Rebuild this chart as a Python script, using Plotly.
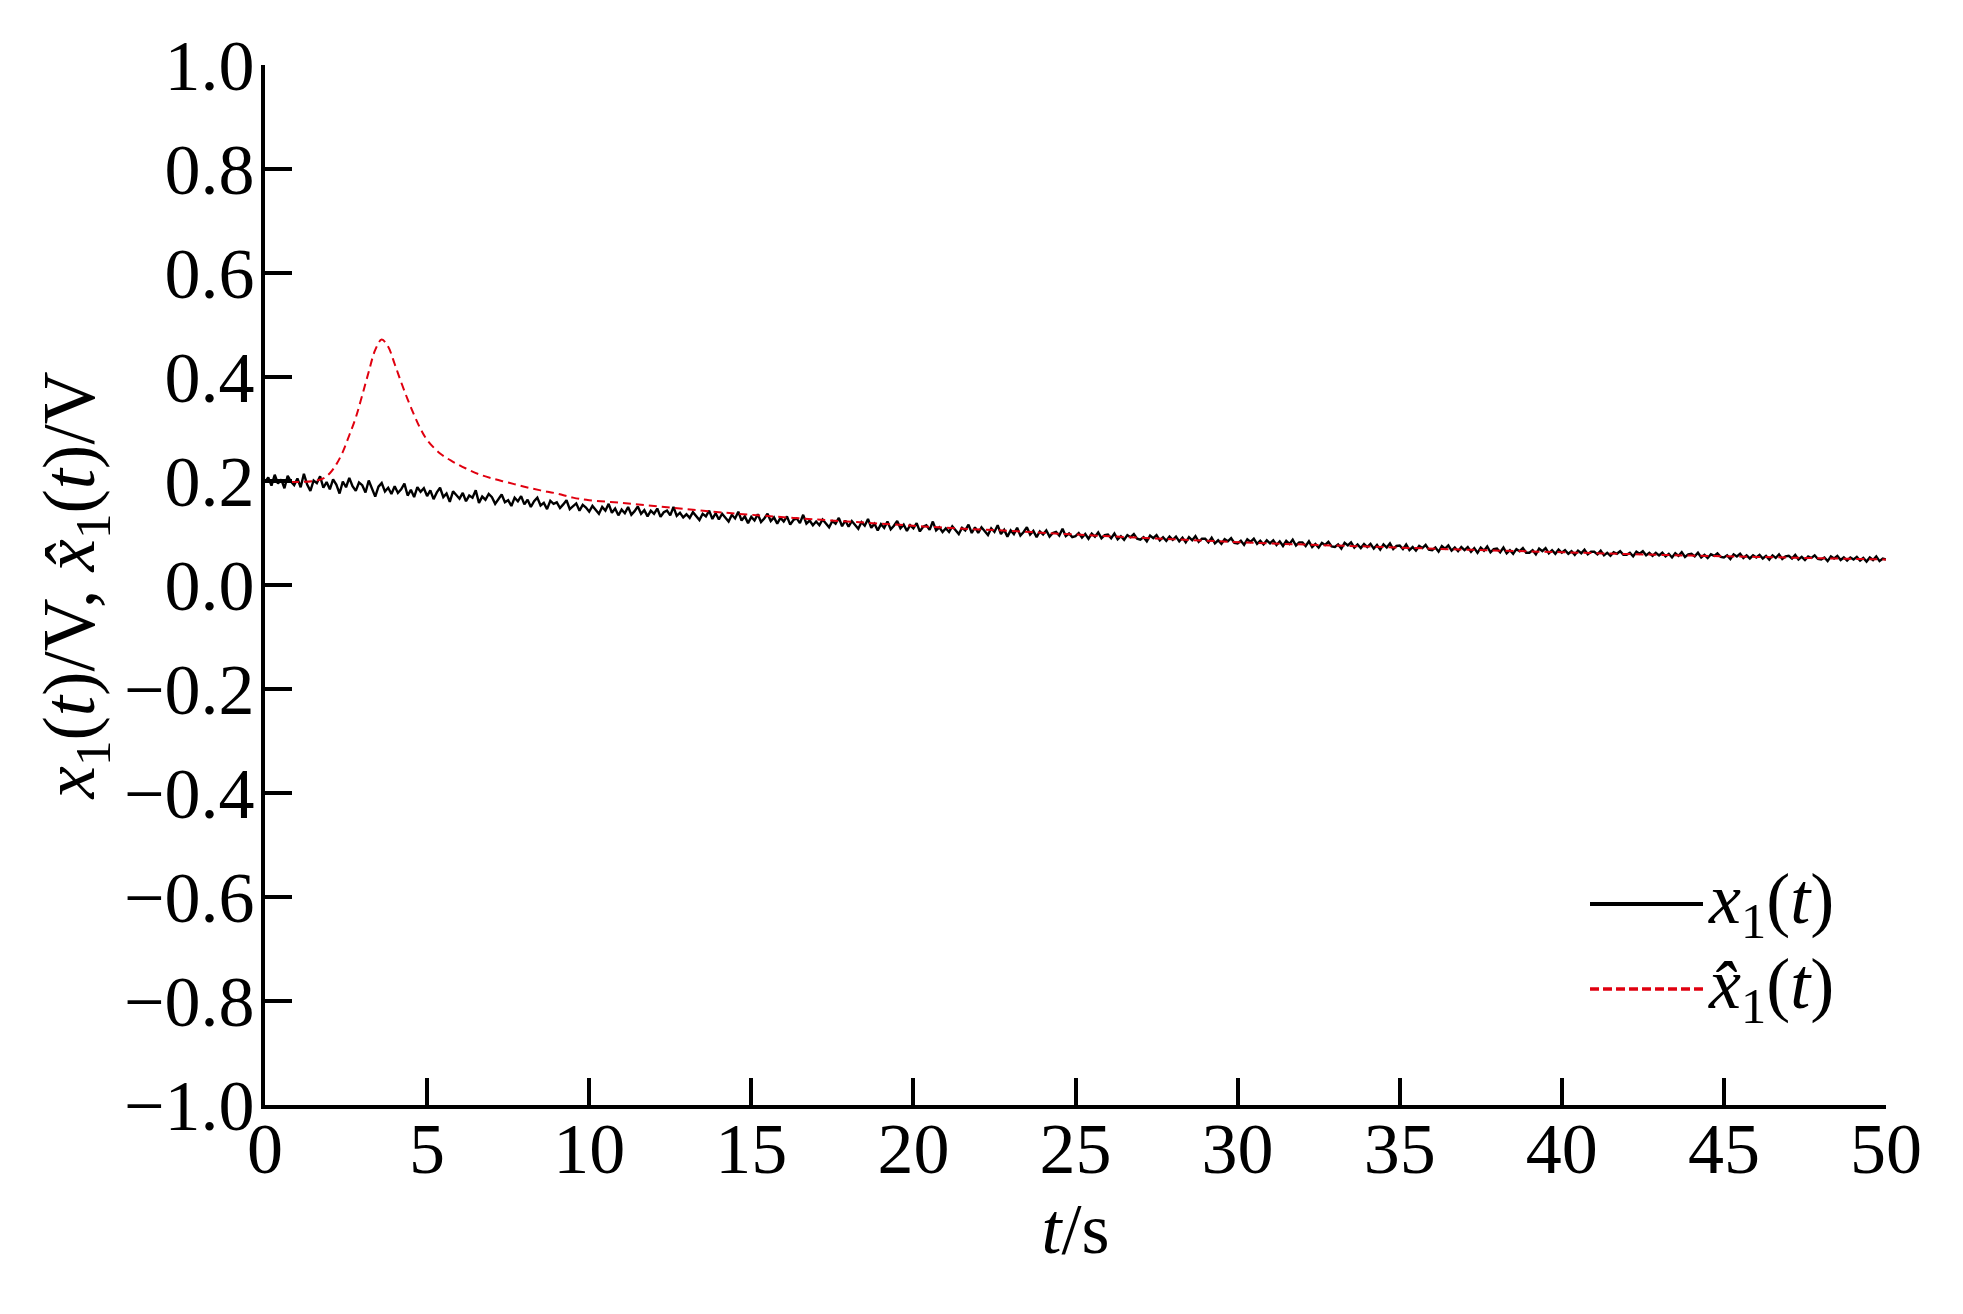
import plotly.graph_objects as go

# ---- data ----
t_x1 = [round(i * 0.1, 1) for i in range(501)]  # sample times, 0.1 s step
x1_vals = [
    0.198, 0.207, 0.191, 0.212, 0.195, 0.203, 0.186, 0.210, 0.199, 0.192,
    0.205, 0.188, 0.214, 0.193, 0.181, 0.201, 0.196, 0.209, 0.187, 0.198,
    0.184, 0.203, 0.193, 0.176, 0.199, 0.188, 0.206, 0.190, 0.181, 0.197,
    0.192, 0.178, 0.201, 0.185, 0.170, 0.189, 0.196, 0.180, 0.187, 0.175,
    0.190, 0.177, 0.184, 0.195, 0.172, 0.183, 0.169, 0.188, 0.179, 0.186,
    0.171, 0.182, 0.165, 0.178, 0.187, 0.169, 0.176, 0.160, 0.180, 0.173,
    0.166, 0.177, 0.161, 0.172, 0.168, 0.182, 0.158, 0.170, 0.164, 0.175,
    0.169, 0.156, 0.166, 0.174, 0.159, 0.163, 0.152, 0.168, 0.161, 0.171,
    0.155, 0.164, 0.150, 0.161, 0.168, 0.153, 0.158, 0.146, 0.162, 0.156,
    0.159, 0.148, 0.155, 0.163, 0.146, 0.152, 0.157, 0.143, 0.154, 0.149,
    0.141, 0.152, 0.145, 0.137, 0.150, 0.143, 0.156, 0.139, 0.147, 0.134,
    0.145, 0.138, 0.150, 0.135, 0.142, 0.151, 0.137, 0.144, 0.132, 0.143,
    0.137, 0.147, 0.131, 0.140, 0.143, 0.134, 0.150, 0.133, 0.139, 0.130,
    0.136, 0.129, 0.140, 0.133, 0.125, 0.137, 0.132, 0.143, 0.127, 0.138,
    0.126, 0.137, 0.130, 0.122, 0.135, 0.128, 0.141, 0.124, 0.132, 0.119,
    0.131, 0.124, 0.136, 0.121, 0.128, 0.137, 0.123, 0.130, 0.118, 0.129,
    0.122, 0.132, 0.116, 0.125, 0.128, 0.119, 0.135, 0.118, 0.124, 0.115,
    0.122, 0.115, 0.126, 0.119, 0.111, 0.123, 0.118, 0.129, 0.113, 0.124,
    0.112, 0.123, 0.116, 0.108, 0.121, 0.114, 0.127, 0.110, 0.118, 0.105,
    0.117, 0.110, 0.122, 0.107, 0.114, 0.123, 0.109, 0.116, 0.104, 0.115,
    0.109, 0.119, 0.103, 0.112, 0.115, 0.106, 0.122, 0.105, 0.111, 0.102,
    0.109, 0.102, 0.113, 0.106, 0.098, 0.110, 0.105, 0.116, 0.100, 0.111,
    0.100, 0.111, 0.104, 0.096, 0.109, 0.102, 0.115, 0.098, 0.106, 0.093,
    0.105, 0.098, 0.110, 0.095, 0.102, 0.111, 0.097, 0.104, 0.092, 0.103,
    0.097, 0.105, 0.093, 0.100, 0.102, 0.095, 0.108, 0.094, 0.099, 0.092,
    0.094, 0.100, 0.091, 0.098, 0.089, 0.099, 0.093, 0.101, 0.090, 0.096,
    0.097, 0.090, 0.099, 0.088, 0.094, 0.087, 0.096, 0.092, 0.098, 0.089,
    0.087, 0.092, 0.084, 0.095, 0.090, 0.096, 0.086, 0.092, 0.085, 0.093,
    0.087, 0.093, 0.084, 0.091, 0.082, 0.092, 0.086, 0.094, 0.083, 0.089,
    0.089, 0.082, 0.091, 0.080, 0.086, 0.079, 0.088, 0.084, 0.090, 0.081,
    0.080, 0.085, 0.077, 0.088, 0.083, 0.089, 0.079, 0.085, 0.078, 0.086,
    0.080, 0.086, 0.077, 0.084, 0.075, 0.085, 0.079, 0.087, 0.076, 0.082,
    0.082, 0.075, 0.084, 0.073, 0.079, 0.072, 0.081, 0.077, 0.083, 0.074,
    0.073, 0.078, 0.070, 0.081, 0.076, 0.082, 0.072, 0.078, 0.071, 0.079,
    0.073, 0.079, 0.070, 0.077, 0.068, 0.078, 0.072, 0.080, 0.069, 0.075,
    0.076, 0.069, 0.078, 0.067, 0.073, 0.066, 0.075, 0.071, 0.077, 0.068,
    0.067, 0.072, 0.064, 0.075, 0.070, 0.076, 0.066, 0.072, 0.065, 0.073,
    0.067, 0.073, 0.064, 0.071, 0.062, 0.072, 0.066, 0.074, 0.063, 0.069,
    0.070, 0.063, 0.072, 0.061, 0.067, 0.060, 0.069, 0.065, 0.071, 0.062,
    0.062, 0.067, 0.059, 0.070, 0.065, 0.071, 0.061, 0.067, 0.060, 0.068,
    0.062, 0.067, 0.060, 0.065, 0.058, 0.066, 0.061, 0.068, 0.059, 0.064,
    0.064, 0.059, 0.066, 0.057, 0.062, 0.056, 0.063, 0.060, 0.065, 0.058,
    0.058, 0.062, 0.055, 0.064, 0.060, 0.065, 0.057, 0.062, 0.056, 0.062,
    0.057, 0.062, 0.055, 0.060, 0.053, 0.061, 0.056, 0.063, 0.054, 0.059,
    0.060, 0.055, 0.062, 0.053, 0.058, 0.052, 0.059, 0.056, 0.061, 0.054,
    0.053, 0.057, 0.050, 0.059, 0.055, 0.060, 0.052, 0.057, 0.051, 0.057,
    0.053, 0.058, 0.051, 0.056, 0.049, 0.057, 0.052, 0.059, 0.050, 0.055,
    0.056, 0.051, 0.058, 0.049, 0.054, 0.048, 0.055, 0.052, 0.057, 0.050,
    0.049, 0.053, 0.046, 0.055, 0.051, 0.056, 0.048, 0.053, 0.047, 0.053,
    0.049, 0.054, 0.047, 0.052, 0.045, 0.053, 0.048, 0.055, 0.046, 0.051,
    0.049,
]

t_x1hat = [0, 0.5, 1.0, 1.5, 1.8, 2.0, 2.2, 2.4, 2.6, 2.8, 3.0, 3.2, 3.4, 3.6,
           3.8, 4.0, 4.2, 4.4, 4.6, 4.8, 5.0, 5.4, 5.8, 6.2, 6.6, 7.0, 7.5, 8.0,
           8.5, 9.0, 9.5, 10, 11, 12, 13, 14, 15, 17, 19, 21, 23, 25, 28, 31,
           34, 37, 40, 43, 46, 50]
x1hat_vals = [0.200, 0.199, 0.198, 0.200, 0.205, 0.215, 0.232, 0.256, 0.288,
              0.322, 0.365, 0.410, 0.452, 0.472, 0.458, 0.425, 0.390, 0.357,
              0.327, 0.300, 0.279, 0.253, 0.237, 0.224, 0.213, 0.205, 0.197,
              0.189, 0.182, 0.176, 0.168, 0.163, 0.158, 0.152, 0.146, 0.140,
              0.135, 0.126, 0.118, 0.110, 0.104, 0.097, 0.088, 0.080, 0.074,
              0.068, 0.063, 0.058, 0.054, 0.049]

x_ticks = [0, 5, 10, 15, 20, 25, 30, 35, 40, 45, 50]
y_ticks = [-1.0, -0.8, -0.6, -0.4, -0.2, 0.0, 0.2, 0.4, 0.6, 0.8, 1.0]

series_names = ["<i>x</i><sub>1</sub>(<i>t</i>)",
                "<i>x̂</i><sub>1</sub>(<i>t</i>)"]
series_colors = ["black", "#e0000f"]

FONT = "Liberation Serif, Times New Roman, serif"

fig = go.Figure()
fig.add_trace(go.Scatter(
    x=t_x1, y=x1_vals, mode="lines", name=series_names[0],
    line=dict(color=series_colors[0], width=2.4),
    showlegend=False,
))
fig.add_trace(go.Scatter(
    x=t_x1hat, y=x1hat_vals, mode="lines", line_shape="spline",
    name=series_names[1],
    line=dict(color=series_colors[1], width=2, dash="8px,5px"),
    showlegend=False,
))

axis_common = dict(
    showline=True, linecolor="black", linewidth=4,
    ticks="inside", ticklen=27, tickwidth=4, tickcolor="black",
    showgrid=False, zeroline=False, mirror=False,
    tickfont=dict(family=FONT, size=72, color="black"),
)

fig.update_xaxes(
    range=[0, 50], tickvals=x_ticks, ticktext=[str(v) for v in x_ticks],
    ticklabelstandoff=-22,
    title=dict(text="<i>t</i>/s", font=dict(family=FONT, size=72, color="black"),
               standoff=12),
    **axis_common,
)
fig.update_yaxes(
    range=[-1, 1], tickvals=y_ticks,
    ticktext=[("−" if v < 0 else "") + f"{abs(v):.1f}" for v in y_ticks],
    ticklabelstandoff=-8,
    title=dict(text="<i>x</i><sub>1</sub>(<i>t</i>)/V, <i>x̂</i><sub>1</sub>(<i>t</i>)/V",
               font=dict(family=FONT, size=73, color="black"), standoff=6),
    **axis_common,
)

# legend drawn in the plot's lower-right corner (long sample lines like the original)
legend_rows_y = [0.1933, 0.1115]
legend_dash = [None, "9px,4px"]
legend_width = [4, 3.5]
for name, color, yy, dsh, w in zip(series_names, series_colors, legend_rows_y,
                                   legend_dash, legend_width):
    line_style = dict(color=color, width=w)
    if dsh:
        line_style["dash"] = dsh
    fig.add_shape(type="line", xref="paper", yref="paper",
                  x0=0.8174, x1=0.8871, y0=yy, y1=yy, line=line_style)
    fig.add_annotation(xref="paper", yref="paper", x=0.889, y=yy,
                       xanchor="left", yanchor="middle", showarrow=False,
                       text=name, font=dict(family=FONT, size=72, color="black"))

fig.update_layout(
    width=1947, height=1298,
    margin=dict(l=257, r=69, t=57, b=201, autoexpand=False),
    paper_bgcolor="white", plot_bgcolor="white",
    font=dict(family=FONT, color="black"),
    showlegend=False,
)

fig.write_html("out.html")
